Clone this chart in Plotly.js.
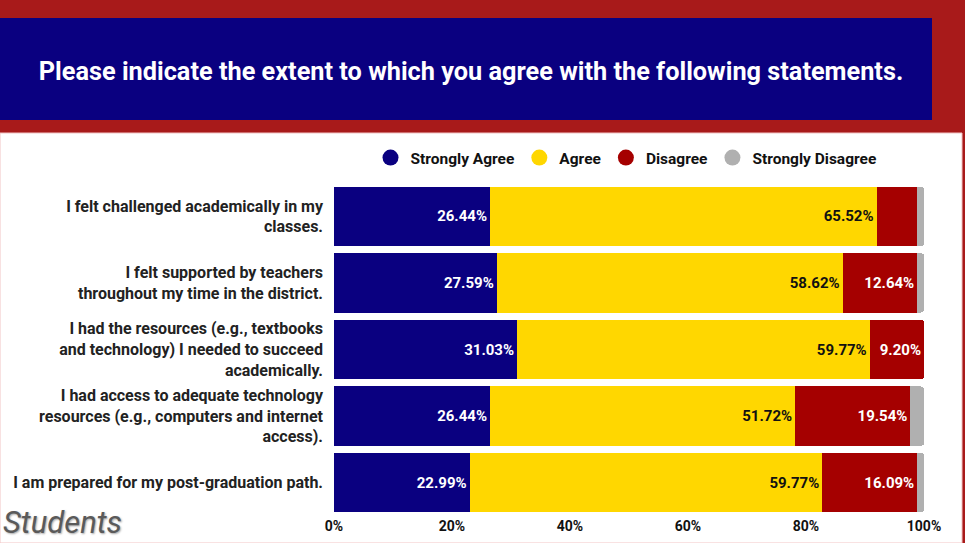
<!DOCTYPE html>
<html>
<head>
<meta charset="utf-8">
<script src="https://cdn.plot.ly/plotly-3.0.1.min.js"></script>
<style>
  html, body { margin: 0; padding: 0; background: #a81a1a; }
  #chart { width: 965px; height: 543px; }
</style>
</head>
<body>
<div id="chart"></div>
<script>
// Survey statements (top to bottom)
const statements = [
  "I felt challenged academically in my<br>classes.",
  "I felt supported by teachers<br>throughout my time in the district.",
  "I had the resources (e.g., textbooks<br>and technology) I needed to succeed<br>academically.",
  "I had access to adequate technology<br>resources (e.g., computers and internet<br>access).",
  "I am prepared for my post-graduation path."
];

// Share of responses, in percent
const stronglyAgree    = [26.44, 27.59, 31.03, 26.44, 22.99];
const agree            = [65.52, 58.62, 59.77, 51.72, 59.77];
const disagree         = [6.90, 12.64, 9.20, 19.54, 16.09];
const stronglyDisagree = [1.15, 1.15, 0.00, 2.30, 1.15];

const seriesNames  = ["Strongly Agree", "Agree", "Disagree", "Strongly Disagree"];
const seriesColors = ["#0a0080", "#ffd700", "#a50000", "#b0b0b0"];
const labelColors  = ["#ffffff", "#111111", "#ffffff", "#111111"];
const tickVals     = [0, 20, 40, 60, 80, 100];
const tickText     = ["0%", "20%", "40%", "60%", "80%", "100%"];

// Plot area in pixels, used to place the panel decorations
const W = 965, H = 543;
const M = { l: 334, r: 41, t: 183, b: 27 };
const pw = W - M.l - M.r, ph = H - M.t - M.b;
const px = x => (x - M.l) / pw;
const py = y => (H - M.b - y) / ph;

// Only label segments wide enough to hold their value
const labelFor = vals => vals.map(v => v >= 8 ? v.toFixed(2) + "%" : "");

const series = [stronglyAgree, agree, disagree, stronglyDisagree];
const font = "Roboto, 'Noto Sans', sans-serif";

const traces = series.map((vals, i) => ({
  type: "bar",
  orientation: "h",
  name: seriesNames[i],
  y: statements,
  x: vals,
  marker: { color: seriesColors[i], line: { width: 0 } },
  text: labelFor(vals),
  texttemplate: "%{text}",
  textposition: "inside",
  insidetextanchor: "end",
  textangle: 0,
  constraintext: "none",
  textfont: { family: font, size: 15, color: labelColors[i], weight: 700 },
  showlegend: false,
  hoverinfo: "skip"
}));

// Round legend markers
seriesNames.forEach((name, i) => {
  traces.push({
    type: "scatter",
    mode: "markers",
    name: name,
    x: [null],
    y: [null],
    marker: { color: seriesColors[i], size: 16, symbol: "circle" },
    showlegend: true,
    hoverinfo: "skip"
  });
});

const layout = {
  width: W,
  height: H,
  margin: M,
  paper_bgcolor: "#a81a1a",
  plot_bgcolor: "#ffffff",
  barmode: "stack",
  bargap: 0.11,
  barcornerradius: 3,
  font: { family: font, color: "#111111" },
  title: {
    text: "<b>Please indicate the extent to which you agree with the following statements.</b>",
    font: { family: font, size: 25.3, color: "#ffffff" },
    xref: "container", yref: "container",
    x: 471 / W, y: 1 - 71 / H,
    xanchor: "center", yanchor: "middle"
  },
  legend: {
    orientation: "h",
    traceorder: "normal",
    x: px(626), xanchor: "center",
    y: py(158), yanchor: "middle",
    font: { family: font, size: 15.5, color: "#111111", weight: 700 },
    bgcolor: "rgba(0,0,0,0)",
    itemclick: false, itemdoubleclick: false
  },
  xaxis: {
    range: [0, 100],
    tickvals: tickVals,
    ticktext: tickText,
    showgrid: false,
    zeroline: false,
    showline: false,
    fixedrange: true,
    tickfont: { family: font, size: 14, color: "#111111", weight: 700 }
  },
  yaxis: {
    type: "category",
    autorange: "reversed",
    showgrid: false,
    zeroline: false,
    showline: false,
    fixedrange: true,
    ticklabelstandoff: 10,
    tickfont: { family: font, size: 16, color: "#222222", weight: 700 }
  },
  shapes: [
    // header banner
    { type: "rect", xref: "paper", yref: "paper", layer: "below",
      x0: px(0), x1: px(932), y0: py(120), y1: py(18),
      fillcolor: "#0a0080", line: { width: 0 } },
    // white chart panel
    { type: "rect", xref: "paper", yref: "paper", layer: "below",
      x0: px(0), x1: px(962), y0: py(543), y1: py(133),
      fillcolor: "#ffffff", line: { color: "#f2c4c4", width: 1 } }
  ],
  annotations: [
    { text: "<i>Students</i>", xref: "paper", yref: "paper",
      x: px(1), y: py(522), xanchor: "left", yanchor: "middle",
      showarrow: false,
      font: { family: font, size: 31, color: "#5a5a5a",
              shadow: "1px 1px 2px rgba(0,0,0,0.35)" } }
  ]
};

Plotly.newPlot("chart", traces, layout, { displayModeBar: false, staticPlot: true });
</script>
</body>
</html>
